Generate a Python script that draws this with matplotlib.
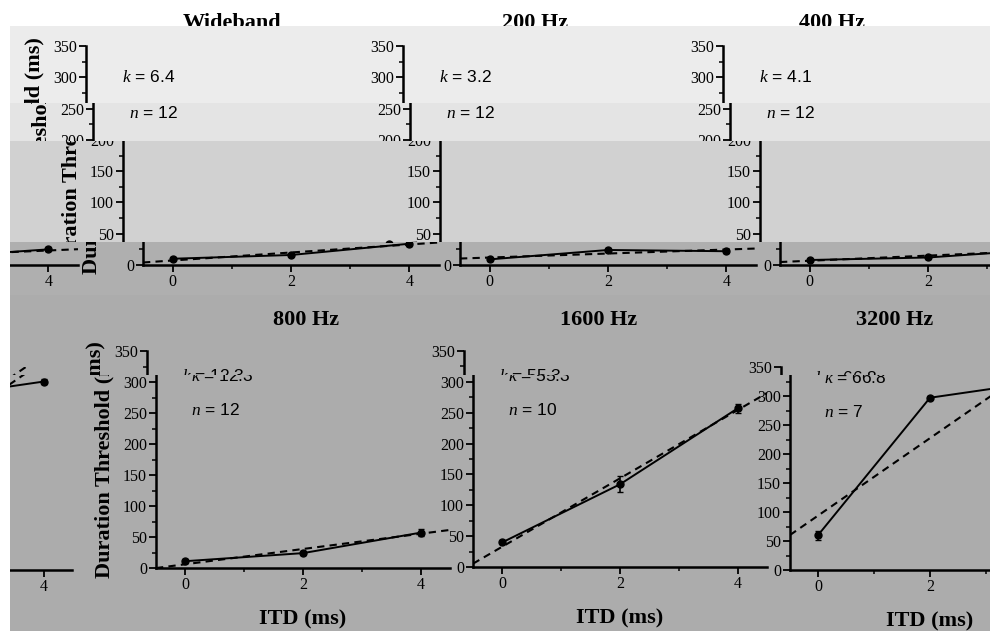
import numpy as np
import matplotlib.pyplot as plt
from matplotlib.patches import Rectangle
from matplotlib.transforms import Bbox

plt.rcParams['font.family'] = 'Liberation Serif'
plt.rcParams['mathtext.fontset'] = 'custom'
plt.rcParams['mathtext.it'] = 'Liberation Serif:italic'
plt.rcParams['mathtext.rm'] = 'Liberation Sans'

W, H = 990, 631

# data
itd = [0, 2, 4]
names = ['Wideband', '200 Hz', '400 Hz', '800 Hz', '1600 Hz', '3200 Hz']
wideband = [10, 16, 34]
hz200 = [9, 24, 22]
hz400 = [8, 12, 25]
hz800 = [11, 24, 57]
hz1600 = [40, 134, 257]
hz3200 = [60, 297, 325]
wideband_err = [2, 2, 3]
hz200_err = [2, 3, 3]
hz400_err = [2, 2, 3]
hz800_err = [3, 3, 6]
hz1600_err = [3, 13, 7]
hz3200_err = [8, 3, 4]
k_vals = [6.4, 3.2, 4.1, 12.3, 55.3, 66.8]
n_vals = [12, 12, 12, 12, 10, 7]
y_ticks = [0, 50, 100, 150, 200, 250, 300, 350]
x_ticks = [0, 2, 4]

series = [wideband, hz200, hz400, hz800, hz1600, hz3200]
errors = [wideband_err, hz200_err, hz400_err, hz800_err, hz1600_err, hz3200_err]

# layout in pixels: left, top, width, height of each plot box (unshifted)
boxes = [(143, 46, 296, 219), (460, 46, 296, 219), (780, 46, 296, 219),
         (156, 351, 294, 217), (473, 351, 294, 216), (790, 367, 280, 203)]
note_y = [(300, 243), (300, 243), (300, 243), (310, 255), (310, 255), (331, 272)]
title_xy = [(232, 28), (535, 28), (832, 28), (306, 325), (599, 325), (895, 325)]

# the scan is torn into horizontal strips, each slid sideways
# top, bottom, shift, colour, row
bands = [
    (26, 103, -57, '#ececec', 0),
    (103, 141, -50, '#e4e4e4', 0),
    (141, 242, -20, '#d1d1d1', 0),
    (242, 295, 0, '#afafaf', 0),
    (295, 375, -9, '#acacac', 1),
    (375, 631, 0, '#acacac', 1),
]
WRAP = 998

fig = plt.figure(figsize=(W / 100, H / 100), dpi=100)
fig.patch.set_facecolor('white')

for top, bot, dx, col, row in bands:
    fig.add_artist(Rectangle((10 / W, 1 - bot / H), (W - 10) / W, (bot - top) / H,
                             transform=fig.transFigure, color=col, lw=0, zorder=-5))


def make_panel(i, dx):
    l, t, w, h = boxes[i]
    l = l + dx
    ax = fig.add_axes([l / W, 1 - (t + h) / H, w / W, h / H])
    ax.set_facecolor('none')
    y = series[i]
    x_fit = np.array([-0.5, 4.5])
    y_fit = np.mean(y) + k_vals[i] * (x_fit - np.mean(itd))
    ax.plot(x_fit, y_fit, ls=(0, (3.5, 2.5)), color='black', lw=1.5)
    ax.errorbar(itd, y, yerr=errors[i], color='black', lw=1.4, marker='o', ms=5,
                capsize=2, elinewidth=1.2)
    ax.set_xlim(-0.5, 4.5)
    ax.set_ylim(0, 350)
    ax.set_xticks(x_ticks)
    ax.set_xticks([1, 3], minor=True)
    ax.set_yticks(y_ticks)
    ax.set_yticks([25, 75, 125, 175, 225, 275, 325], minor=True)
    ax.spines['top'].set_visible(False)
    ax.spines['right'].set_visible(False)
    ax.spines['left'].set_linewidth(1.8)
    ax.spines['bottom'].set_linewidth(1.8)
    ax.tick_params(which='major', direction='out', length=5, width=1.3,
                   labelsize=11.5, pad=1.5)
    ax.tick_params(which='minor', direction='out', length=3, width=1.1)
    ky, ny = note_y[i]
    ax.text(0.1, ky, r'$k$ = ' + str(k_vals[i]), family='Liberation Sans',
            fontsize=12.5, va='center')
    ax.text(0.1, ny, r'$n$ = ' + str(n_vals[i]), family='Liberation Sans',
            fontsize=12.5, va='center')
    if i % 3 == 0:
        ax.set_ylabel('Duration Threshold (ms)', fontsize=16, fontweight='bold',
                      va='center')
        ax.yaxis.set_label_coords(-52 / w, 0.5)
    if i >= 3:
        ax.set_xlabel('ITD (ms)', fontsize=16, fontweight='bold', va='center')
        ax.xaxis.set_label_coords(0.5, -51 / h)
    return ax


strips = []
for top, bot, dx, col, row in bands:
    box = Bbox.from_extents(10, H - bot, W, H - top)
    for j in range(3):
        i = row * 3 + j
        strips.append((make_panel(i, dx), box))
        if j == 2:
            strips.append((make_panel(i, dx - WRAP), box))

for i in range(6):
    x, y = title_xy[i]
    t = fig.text(x / W, 1 - y / H, names[i], ha='center', va='baseline',
                 fontsize=16, fontweight='bold')
    if i < 3:
        t.set_clip_box(Bbox.from_extents(0, H - 26, W, H))
        t.set_clip_on(True)

fig.canvas.draw()

# cut every piece down to its own strip
for ax, box in strips:
    for art in ax.findobj(include_self=False):
        cb = art.get_clip_box() if art.get_clip_on() else None
        new = box if cb is None else Bbox.intersection(cb, box)
        if new is None:
            art.set_visible(False)
        else:
            art.set_clip_box(new)
            art.set_clip_on(True)

fig.savefig('out.png', dpi=100)
